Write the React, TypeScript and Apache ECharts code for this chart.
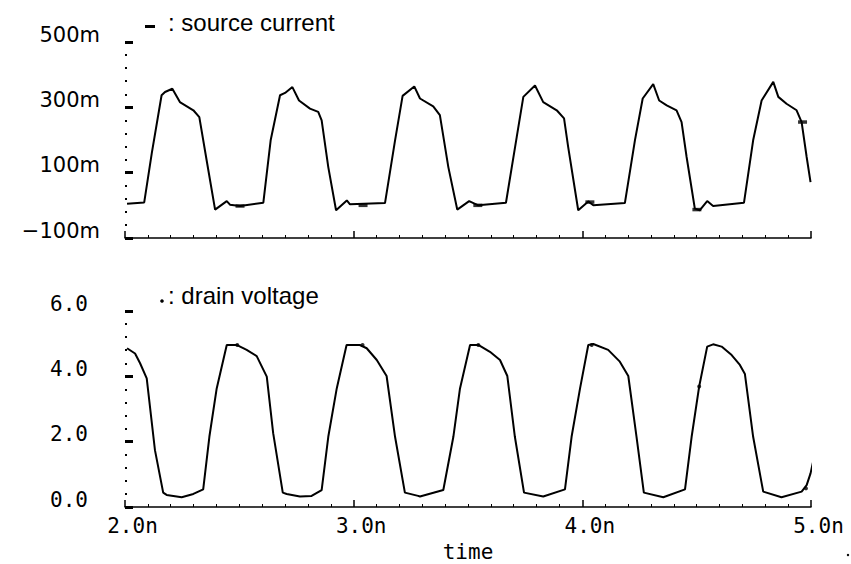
import React, { useEffect, useRef } from "react";
import * as echarts from "echarts";

// source current (time in ns, value in mA)
const curTime = [
  2.009, 2.084, 2.117, 2.160, 2.175, 2.207, 2.240, 2.299, 2.325, 2.357, 2.394, 2.445, 2.459, 2.503,
  2.605, 2.637, 2.678, 2.700, 2.732, 2.761, 2.809, 2.845, 2.860, 2.889, 2.923, 2.970, 2.984,
  3.137, 3.181, 3.214, 3.265, 3.290, 3.348, 3.377, 3.414, 3.453, 3.505, 3.545,
  3.666, 3.713, 3.742, 3.793, 3.829, 3.888, 3.920, 3.938, 3.982, 4.026, 4.048,
  4.186, 4.230, 4.264, 4.310, 4.336, 4.369, 4.412, 4.434, 4.456, 4.492, 4.514, 4.546, 4.572,
  4.707, 4.747, 4.784, 4.835, 4.857, 4.893, 4.937, 4.959, 4.981, 4.998,
];
const curValue = [
  5, 9, 159, 337, 347, 357, 316, 291, 270, 138, -13, 13, 2, -2,
  8, 199, 337, 344, 362, 321, 296, 286, 260, 117, -15, 15, 3,
  7, 199, 335, 364, 327, 303, 276, 117, -13, 13, 0,
  8, 209, 332, 367, 316, 291, 266, 179, -15, 12, 0,
  7, 199, 327, 371, 321, 306, 291, 255, 148, -10, -15, 13, -2,
  8, 199, 321, 378, 332, 311, 291, 255, 148, 71,
];
const curMarkTime = [2.503, 3.041, 3.543, 4.033, 4.501, 4.963];
const curMarkValue = [-2, 0, 0, 10, -13, 255];

// drain voltage (time in ns, value in V)
const volTime = [
  2.009, 2.044, 2.066, 2.095, 2.131, 2.167, 2.182, 2.248, 2.299, 2.342,
  2.369, 2.401, 2.445, 2.488, 2.532, 2.576, 2.620, 2.648, 2.690, 2.707, 2.765, 2.816, 2.860,
  2.889, 2.926, 2.969, 3.027, 3.057, 3.101, 3.144, 3.181, 3.224, 3.282, 3.290, 3.392,
  3.436, 3.465, 3.509, 3.545, 3.596, 3.640, 3.672, 3.705, 3.745, 3.829, 3.924,
  3.953, 3.990, 4.026, 4.048, 4.113, 4.164, 4.201, 4.237, 4.269, 4.354, 4.449,
  4.478, 4.511, 4.546, 4.572, 4.609, 4.653, 4.689, 4.711, 4.747, 4.791, 4.871, 4.959, 4.981, 4.998, 5.021,
];
const volValue = [
  4.86, 4.70, 4.40, 3.94, 1.74, 0.44, 0.37, 0.30, 0.40, 0.54,
  2.15, 3.63, 4.96, 4.96, 4.81, 4.62, 3.99, 2.26, 0.44, 0.40, 0.32, 0.34, 0.52,
  2.15, 3.63, 4.96, 4.96, 4.86, 4.50, 4.01, 2.15, 0.44, 0.34, 0.32, 0.52,
  2.15, 3.63, 4.96, 4.96, 4.75, 4.50, 4.01, 2.15, 0.44, 0.32, 0.54,
  2.15, 3.63, 4.96, 4.99, 4.81, 4.45, 4.01, 2.15, 0.44, 0.30, 0.54,
  2.15, 3.69, 4.91, 4.98, 4.91, 4.65, 4.35, 4.07, 2.15, 0.47, 0.30, 0.47, 0.67, 1.03, 1.77,
];
const volMarkTime = [2.491, 3.039, 3.545, 4.041, 4.511, 4.978];
const volMarkValue = [4.96, 4.96, 4.96, 4.96, 3.69, 0.57];

const curTitle = ": source current";
const volTitle = ": drain voltage";
const xName = "time";

const zip = (a: number[], b: number[]) => a.map((t, i) => [t, b[i]]);

const MONO = '"DejaVu Sans Mono", monospace';
const SANS = '"Liberation Sans", Arial, sans-serif';

export default function App() {
  const ref = useRef<HTMLDivElement>(null);
  useEffect(() => {
    if (!ref.current) return;
    const chart = echarts.init(ref.current, undefined, { renderer: "svg" });
    const baseX = {
      type: "value" as const,
      min: 2,
      max: 5,
      interval: 1,
      axisLine: { show: true, onZero: false, lineStyle: { color: "#000", width: 1.5 } },
      axisTick: { show: true, inside: true, length: 7, lineStyle: { color: "#000", width: 1.5 } },
      minorTick: { show: true, splitNumber: 10, length: 3, lineStyle: { color: "#000", width: 1 } },
      splitLine: { show: false },
      minorSplitLine: { show: false },
    };
    const baseY = {
      type: "value" as const,
      axisLine: { show: false },
      axisTick: { show: true, inside: true, length: 8, lineStyle: { color: "#000", width: 3 } },
      minorTick: { show: true, splitNumber: 5, length: 2, lineStyle: { color: "#000", width: 2 } },
      splitLine: { show: false },
      minorSplitLine: { show: false },
    };
    chart.setOption({
      animation: false,
      backgroundColor: "#fff",
      grid: [
        { left: 125, right: 40, top: 42, height: 196 },
        { left: 125, right: 40, top: 311, height: 196 },
      ],
      xAxis: [
        { ...baseX, gridIndex: 0, axisLabel: { show: false } },
        {
          ...baseX,
          gridIndex: 1,
          axisLabel: {
            show: true,
            color: "#000",
            fontFamily: MONO,
            fontSize: 21,
            margin: 8,
            formatter: (v: number) => "{a|" + v.toFixed(1) + "n}",
            rich: {
              a: { color: "#000", fontFamily: MONO, fontSize: 21, padding: [0, 0, 0, 15] },
            },
          },
          name: xName,
          nameLocation: "middle",
          nameGap: 34,
          nameTextStyle: { color: "#000", fontFamily: MONO, fontSize: 21 },
        },
      ],
      yAxis: [
        {
          ...baseY,
          gridIndex: 0,
          min: -100,
          max: 500,
          interval: 200,
          axisLabel: {
            color: "#000",
            fontFamily: '"DejaVu Sans", sans-serif',
            fontSize: 21,
            margin: 25,
            verticalAlign: "bottom",
            lineHeight: 15,
            formatter: (v: number) => String(v).replace("-", "\u2212") + "m",
          },
        },
        {
          ...baseY,
          gridIndex: 1,
          min: 0,
          max: 6,
          interval: 2,
          axisLabel: {
            color: "#000",
            fontFamily: MONO,
            fontSize: 21,
            margin: 37,
            verticalAlign: "bottom",
            lineHeight: 15,
            formatter: (v: number) => v.toFixed(1),
          },
        },
      ],
      series: [
        {
          type: "line",
          xAxisIndex: 0,
          yAxisIndex: 0,
          data: zip(curTime, curValue),
          showSymbol: false,
          lineStyle: { color: "#000", width: 2 },
          z: 3,
        },
        {
          type: "scatter",
          xAxisIndex: 0,
          yAxisIndex: 0,
          data: zip(curMarkTime, curMarkValue),
          symbol: "rect",
          symbolSize: [9, 3.5],
          itemStyle: { color: "#000" },
          z: 4,
        },
        {
          type: "line",
          xAxisIndex: 1,
          yAxisIndex: 1,
          data: zip(volTime, volValue),
          showSymbol: false,
          clip: false,
          lineStyle: { color: "#000", width: 2 },
          z: 3,
        },
        {
          type: "scatter",
          xAxisIndex: 1,
          yAxisIndex: 1,
          data: zip(volMarkTime, volMarkValue),
          symbol: "circle",
          symbolSize: 4,
          itemStyle: { color: "#000" },
          z: 4,
        },
      ],
      graphic: [
        { type: "rect", shape: { x: 145, y: 25, width: 10, height: 3 }, style: { fill: "#000" } },
        {
          type: "text",
          x: 168,
          y: 22,
          style: { text: curTitle, fontFamily: SANS, fontSize: 24, fill: "#000", verticalAlign: "middle" },
        },
        { type: "circle", shape: { cx: 162, cy: 301, r: 1.8 }, style: { fill: "#000" } },
        {
          type: "text",
          x: 168,
          y: 295,
          style: { text: volTitle, fontFamily: SANS, fontSize: 24, fill: "#000", verticalAlign: "middle" },
        },
        { type: "circle", shape: { cx: 848, cy: 555, r: 1.2 }, style: { fill: "#000" } },
      ],
    });
    return () => chart.dispose();
  }, []);
  return <div ref={ref} style={{ width: 851, height: 564, position: "absolute", left: 0, top: 0 }} />;
}
